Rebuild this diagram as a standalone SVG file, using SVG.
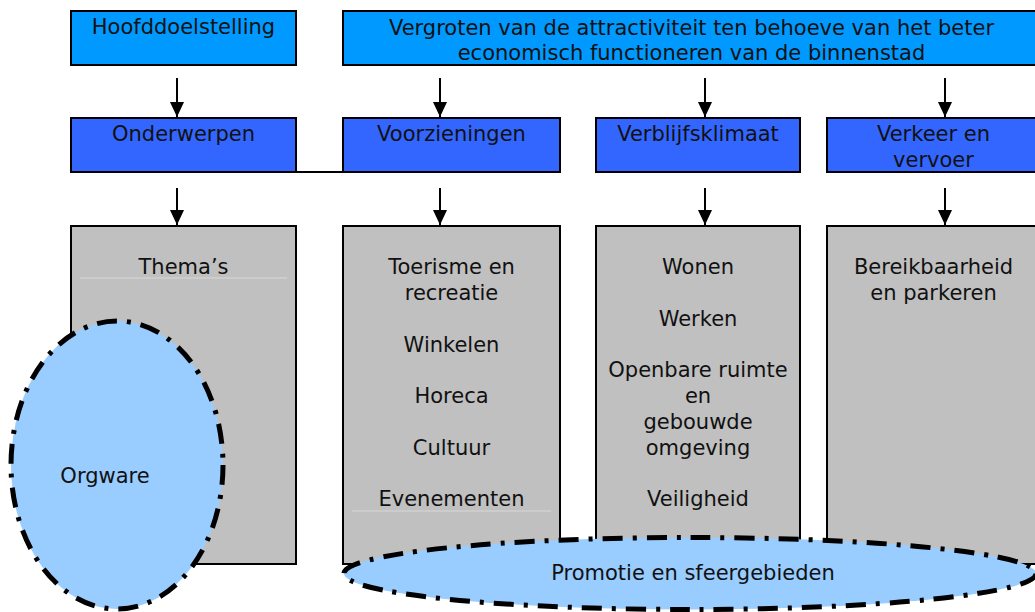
<svg xmlns="http://www.w3.org/2000/svg" width="1035" height="612" viewBox="0 0 1035 612">
<defs>
<style>
text{font-family:"DejaVu Sans",Verdana,sans-serif;font-size:21px;fill:#111;text-anchor:middle}
.top{fill:#0099ff;stroke:#000;stroke-width:2}
.sub{fill:#3366ff;stroke:#000;stroke-width:2}
.grey{fill:#c0c0c0;stroke:#000;stroke-width:2}
.conn{stroke:#000;stroke-width:2;fill:none}
.faint{stroke:#d8d8d8;stroke-width:1}
.oval{fill:#99ccff;stroke:#000;stroke-width:5;stroke-dasharray:20 10 4 10}
</style>
<marker id="ah" viewBox="0 0 15 14" refX="15" refY="7" markerWidth="15" markerHeight="14" markerUnits="userSpaceOnUse" orient="auto">
<path d="M0,0 L15,7 L0,14 z" fill="#000"/>
</marker>
</defs>
<rect width="1035" height="612" fill="#fff"/>
<g id="hoofddoelstelling"><rect class="top" x="71" y="11" width="225" height="54"/><text x="183.5" y="34">Hoofddoelstelling</text></g>
<g id="doel"><rect class="top" x="343" y="11" width="697" height="54"/><text x="691.5" y="35">Vergroten van de attractiviteit ten behoeve van het beter</text><text x="691.5" y="60">economisch functioneren van de binnenstad</text></g>
<g id="onderwerpen"><rect class="sub" x="71" y="118" width="225" height="54"/><text x="183.5" y="141">Onderwerpen</text></g>
<g id="voorzieningen"><rect class="sub" x="343" y="118" width="217" height="54"/><text x="451.5" y="141">Voorzieningen</text></g>
<g id="verblijfsklimaat"><rect class="sub" x="596" y="118" width="204" height="54"/><text x="698" y="141">Verblijfsklimaat</text></g>
<g id="verkeer"><rect class="sub" x="827" y="118" width="213" height="54"/><text x="933.5" y="141">Verkeer en</text><text x="933.5" y="167">vervoer</text></g>
<g id="themas"><rect class="grey" x="71" y="226" width="225" height="338"/><line class="faint" x1="80" y1="278" x2="287" y2="278"/><text x="183.5" y="274">Thema’s</text></g>
<g id="voorzieningen-lijst"><rect class="grey" x="343" y="226" width="217" height="338"/><line class="faint" x1="352" y1="511" x2="551" y2="511"/><text x="451.5" y="274">Toerisme en</text><text x="451.5" y="300">recreatie</text><text x="451.5" y="352">Winkelen</text><text x="451.5" y="403">Horeca</text><text x="451.5" y="455">Cultuur</text><text x="451.5" y="506">Evenementen</text></g>
<g id="verblijf-lijst"><rect class="grey" x="596" y="226" width="204" height="338"/><text x="698" y="274">Wonen</text><text x="698" y="326">Werken</text><text x="698" y="377">Openbare ruimte</text><text x="698" y="403">en</text><text x="698" y="429">gebouwde</text><text x="698" y="455">omgeving</text><text x="698" y="506">Veiligheid</text></g>
<g id="verkeer-lijst"><rect class="grey" x="827" y="226" width="213" height="338"/><text x="933.5" y="274">Bereikbaarheid</text><text x="933.5" y="300">en parkeren</text></g>
<g id="connectors">
<line class="conn" x1="177" y1="78" x2="177" y2="117" marker-end="url(#ah)"/>
<line class="conn" x1="440" y1="78" x2="440" y2="117" marker-end="url(#ah)"/>
<line class="conn" x1="705" y1="78" x2="705" y2="117" marker-end="url(#ah)"/>
<line class="conn" x1="945" y1="78" x2="945" y2="117" marker-end="url(#ah)"/>
<line class="conn" x1="177" y1="188" x2="177" y2="225" marker-end="url(#ah)"/>
<line class="conn" x1="440" y1="188" x2="440" y2="225" marker-end="url(#ah)"/>
<line class="conn" x1="705" y1="188" x2="705" y2="225" marker-end="url(#ah)"/>
<line class="conn" x1="945" y1="188" x2="945" y2="225" marker-end="url(#ah)"/>
<line x1="296" y1="172" x2="343" y2="172" stroke="#000" stroke-width="2"/>
</g>
<g id="orgware"><ellipse class="oval" cx="117" cy="465" rx="106" ry="144"/><text x="105" y="483">Orgware</text></g>
<g id="promotie"><ellipse class="oval" cx="690" cy="573.5" rx="346" ry="36"/><text x="693" y="580">Promotie en sfeergebieden</text></g>
</svg>
